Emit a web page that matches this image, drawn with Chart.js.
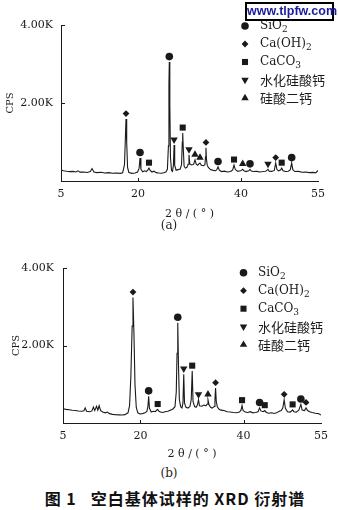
<!DOCTYPE html>
<html>
<head>
<meta charset="utf-8">
<script src="https://cdn.jsdelivr.net/npm/chart.js@4.4.0/dist/chart.umd.min.js"></script>
<style>
  body { margin: 0; background: #fff; }
  #page { position: relative; width: 338px; height: 510px; overflow: hidden; background: #fff; }
  canvas { position: absolute; left: 0; }
  .label { position: absolute; left: 0; width: 338px; text-align: center; color: #222;
           font: 12px "DejaVu Serif"; line-height: 14px; }
  #caption { font: bold 16px "Noto Sans CJK SC"; line-height: 18px; letter-spacing: 1px; color: #111; }
  #mark { position: absolute; left: 245px; top: 2px; width: 89px; height: 19px; box-sizing: border-box;
          border: 2px solid #000; background: #fff; color: #1c1ca0; text-align: center;
          font: bold 12.5px "Liberation Sans"; line-height: 15px; }
</style>
</head>
<body>
<div id="page">
  <canvas id="xrdA" width="338" height="232" style="top:0"></canvas>
  <canvas id="xrdB" width="338" height="225" style="top:240px"></canvas>
  <div class="label" style="top:218px">(a)</div>
  <div class="label" style="top:466px">(b)</div>
  <div class="label" id="caption" style="top:489px; left:6px">图 1&nbsp;&nbsp;&nbsp;空白基体试样的 XRD 衍射谱</div>
  <div id="mark">www.tlpfw.com</div>
</div>
<script>
// axis ticks
const thetaTicks = [5, 20, 40, 55];
const cpsTicks = [2000, 4000];
const phaseNames = ['SiO2', 'Ca(OH)2', 'CaCO3', '水化硅酸钙', '硅酸二钙'];

// (a) pattern: [2θ, CPS]
const xrdA = [
  [5.0,280],[5.5,262],[6.1,250],[6.7,240],[7.3,246],[7.9,232],[8.3,262],[8.7,228],[9.4,232],[10.1,218],
  [10.7,240],[11.05,320],[11.4,232],[12.0,216],[12.8,226],[13.5,206],[14.3,215],[15.0,200],[15.8,206],
  [16.5,196],[17.0,212],[17.35,420],[17.55,1200],[17.65,1590],[17.78,1000],[17.95,350],[18.2,218],
  [18.8,196],[19.4,205],[19.9,230],[20.2,330],[20.37,590],[20.55,300],[20.9,235],[21.3,262],[21.6,240],
  [21.9,285],[22.12,330],[22.35,270],[22.7,230],[23.1,252],[23.5,215],[24.0,206],[24.5,200],[25.0,212],
  [25.4,232],[25.7,300],[25.9,900],[26.0,2500],[26.07,3050],[26.17,2000],[26.3,600],[26.5,270],[26.7,245],
  [26.88,420],[27.0,920],[27.12,400],[27.4,275],[27.8,292],[28.2,305],[28.45,420],[28.6,1000],[28.68,1230],
  [28.8,800],[28.95,380],[29.2,330],[29.5,350],[29.72,430],[29.9,670],[30.05,440],[30.4,410],[30.8,425],
  [31.07,540],[31.3,430],[31.6,405],[31.82,440],[32.04,460],[32.3,405],[32.7,392],[33.0,420],[33.12,620],
  [33.2,850],[33.3,560],[33.45,400],[33.7,340],[34.1,292],[34.6,272],[35.1,262],[35.35,300],[35.55,360],
  [35.8,280],[36.2,242],[36.8,252],[37.4,232],[38.0,242],[38.4,282],[38.66,410],[38.9,300],[39.3,252],
  [39.8,256],[40.1,272],[40.35,300],[40.6,262],[41.0,242],[41.5,262],[41.77,300],[42.0,256],[42.5,242],
  [43.1,246],[43.7,232],[44.3,242],[44.8,252],[45.05,272],[45.27,300],[45.5,252],[46.0,246],[46.5,272],
  [46.77,460],[47.0,300],[47.3,262],[47.7,282],[47.94,330],[48.2,262],[48.7,242],[49.2,252],[49.6,285],
  [49.88,460],[50.1,290],[50.5,242],[51.2,246],[51.9,226],[52.6,232],[53.3,216],[54.0,222],[54.6,212],
  [55.0,270]
];
const sio2A = [[20.37,590],[26.07,3050],[35.55,360],[41.77,300],[49.88,460]];
const portlanditeA = [[17.65,1590],[33.2,850],[46.77,460]];
const calciteA = [[22.12,330],[28.68,1230],[38.66,410],[47.94,330]];
const cshA = [[27.0,920],[29.9,670],[45.27,300]];
const c2sA = [[31.07,540],[32.04,460],[40.35,300]];

// (b) pattern: [2θ, CPS]
const xrdB = [
  [5.0,370],[5.6,352],[6.2,340],[6.8,328],[7.4,322],[8.0,310],[8.6,302],[9.05,315],[9.3,390],[9.55,305],
  [10.2,292],[10.6,312],[10.9,410],[11.15,320],[11.5,430],[11.75,330],[12.0,445],[12.3,320],[12.7,282],
  [13.2,262],[13.6,282],[14.0,242],[14.6,222],[15.2,215],[15.8,210],[16.4,206],[17.0,216],[17.6,262],
  [17.9,450],[18.15,1200],[18.4,2500],[18.56,3240],[18.75,2300],[18.95,1000],[19.2,400],[19.5,262],
  [19.9,232],[20.4,242],[20.9,262],[21.25,300],[21.45,420],[21.6,690],[21.75,380],[22.1,282],[22.5,302],
  [22.9,292],[23.12,330],[23.35,350],[23.6,302],[23.9,282],[24.3,272],[24.8,292],[25.3,302],[25.8,332],
  [26.3,362],[26.7,420],[26.95,800],[27.1,1800],[27.24,2590],[27.38,1500],[27.55,600],[27.8,420],
  [28.05,390],[28.25,520],[28.4,1260],[28.55,520],[28.8,410],[29.2,385],[29.6,425],[29.85,600],
  [30.04,1340],[30.2,560],[30.5,425],[30.8,405],[31.06,470],[31.26,600],[31.45,445],[31.9,432],
  [32.3,462],[32.7,442],[32.92,485],[33.1,600],[33.3,470],[33.6,405],[33.9,385],[34.3,425],[34.45,620],
  [34.57,900],[34.7,560],[34.9,420],[35.2,362],[35.6,332],[36.2,322],[36.8,292],[37.4,282],[38.0,272],
  [38.6,266],[39.2,282],[39.5,330],[39.7,450],[39.9,322],[40.3,282],[40.8,272],[41.3,292],[41.8,262],
  [42.3,272],[42.8,292],[43.1,390],[43.35,312],[43.8,292],[44.1,320],[44.4,272],[44.9,252],[45.4,266],
  [45.9,246],[46.4,262],[46.9,302],[47.3,322],[47.6,390],[47.86,600],[48.1,380],[48.5,292],[49.0,282],
  [49.25,302],[49.5,340],[49.75,292],[50.2,282],[50.7,332],[51.1,480],[51.35,332],[51.8,322],[52.1,390],
  [52.4,322],[52.8,292],[53.3,272],[53.9,252],[54.5,242],[55.0,205]
];
const sio2B = [[21.6,690],[27.24,2590],[43.1,390],[51.1,480]];
const portlanditeB = [[18.56,3240],[34.57,900],[47.86,600],[52.1,390]];
const calciteB = [[23.35,350],[30.04,1340],[39.7,450],[44.1,320],[49.5,340]];
const cshB = [[28.4,1260],[31.26,600]];
const c2sB = [[33.1,600]];

// marker shapes, same order as phaseNames
const markers = [
  { pointStyle: 'circle', radius: 3.8, rotation: 0 },
  { pointStyle: 'rectRot', radius: 3.4, rotation: 0 },
  { pointStyle: 'rect', radius: 4.3, rotation: 0 },
  { pointStyle: 'triangle', radius: 4.3, rotation: 180 },
  { pointStyle: 'triangle', radius: 4.3, rotation: 0 }
];
const MARK_LIFT = 140;   // markers sit a few px above the peak top
const INK = '#1a1a1a';
const SERIF = '"DejaVu Serif", "Noto Sans CJK SC"';

function drawLabel(ctx, text, x, y) {
  if (/[\u4e00-\u9fff]/.test(text)) {
    ctx.font = '13px "Noto Sans CJK SC"';
    ctx.fillText(text, x, y);
    return;
  }
  // digits in a formula are subscripts
  for (const part of text.match(/\d+|\D+/g)) {
    const sub = /^\d/.test(part);
    ctx.font = sub ? '9px "DejaVu Serif"' : '12px "DejaVu Serif"';
    ctx.fillText(part, x, y + (sub ? 4 : 0));
    x += ctx.measureText(part).width;
  }
}

// inward tick marks plus the phase key
const xrdDecor = {
  id: 'xrdDecor',
  afterDraw(chart, args, opts) {
    const { ctx, chartArea: a, scales: { x, y } } = chart;
    ctx.save();
    ctx.strokeStyle = INK;
    ctx.lineWidth = 1;
    ctx.beginPath();
    x.ticks.forEach(t => {
      if (t.value <= x.min || t.value >= x.max) return;
      const px = Math.round(x.getPixelForValue(t.value)) + 0.5;
      ctx.moveTo(px, a.bottom);
      ctx.lineTo(px, a.bottom - 3);
    });
    y.ticks.forEach(t => {
      const py = Math.round(y.getPixelForValue(t.value)) + 0.5;
      ctx.moveTo(a.left, py);
      ctx.lineTo(a.left + 4, py);
    });
    ctx.stroke();

    ctx.fillStyle = INK;
    ctx.textBaseline = 'middle';
    ctx.textAlign = 'left';
    phaseNames.forEach((name, i) => {
      const ry = opts.top + i * opts.step;
      Chart.helpers.drawPoint(ctx, { ...markers[i], borderWidth: 0 }, opts.markX, ry);
      drawLabel(ctx, name, opts.textX, ry);
    });
    ctx.restore();
  }
};

function makeChart(id, pattern, phases, g) {
  const datasets = [{
    type: 'line',
    data: pattern.map(([t, c]) => ({ x: t, y: c })),
    borderColor: INK,
    borderWidth: 1.1,
    pointRadius: 0,
    tension: 0
  }];
  phases.forEach((peaks, i) => {
    datasets.push({
      type: 'scatter',
      data: peaks.map(([t, c]) => ({ x: t, y: c + MARK_LIFT })),
      pointStyle: markers[i].pointStyle,
      pointRadius: markers[i].radius,
      pointRotation: markers[i].rotation,
      backgroundColor: INK,
      borderWidth: 0
    });
  });

  return new Chart(document.getElementById(id), {
    data: { datasets },
    plugins: [xrdDecor],
    options: {
      responsive: false,
      animation: false,
      layout: { padding: { top: g.top, right: g.right, left: 0, bottom: 0 } },
      plugins: {
        legend: { display: false },
        tooltip: { enabled: false },
        xrdDecor: g.key
      },
      scales: {
        x: {
          type: 'linear',
          min: 5,
          max: 55,
          afterBuildTicks: s => { s.ticks = thetaTicks.map(v => ({ value: v })); },
          afterFit: s => { s.height = g.xHeight; },
          ticks: { color: INK, padding: 7, maxRotation: 0, font: { family: SERIF, size: 11 } },
          grid: { display: true, drawOnChartArea: false, drawTicks: false },
          border: { display: true, color: INK, width: 1 },
          title: {
            display: true,
            text: '2 θ / ( ° )',
            color: INK,
            font: { family: SERIF, size: 11 },
            padding: { top: 0, bottom: g.titlePad }
          }
        },
        y: {
          min: 0,
          max: 4000,
          afterBuildTicks: s => { s.ticks = cpsTicks.map(v => ({ value: v })); },
          afterFit: s => { s.width = g.yWidth; },
          ticks: {
            color: INK,
            padding: g.yPad,
            font: { family: SERIF, size: 11 },
            callback: v => (v / 1000).toFixed(2) + 'K'
          },
          grid: { display: true, drawOnChartArea: false, drawTicks: false },
          border: { display: true, color: INK, width: 1 },
          title: {
            display: true,
            text: 'CPS',
            color: INK,
            font: { family: SERIF, size: 10 },
            padding: { top: g.cpsPad, bottom: 0 }
          }
        }
      }
    }
  });
}

makeChart('xrdA', xrdA, [sio2A, portlanditeA, calciteA, cshA, c2sA], {
  top: 25, right: 20, xHeight: 51, yWidth: 61, titlePad: 11, yPad: 8, cpsPad: 4,
  key: { markX: 245, textX: 260, top: 26, step: 18 }
});

makeChart('xrdB', xrdB, [sio2B, portlanditeB, calciteB, cshB, c2sB], {
  top: 28, right: 17, xHeight: 42, yWidth: 63, titlePad: 4, yPad: 9, cpsPad: 10,
  key: { markX: 243.5, textX: 258, top: 32.7, step: 18 }
});
</script>
</body>
</html>
